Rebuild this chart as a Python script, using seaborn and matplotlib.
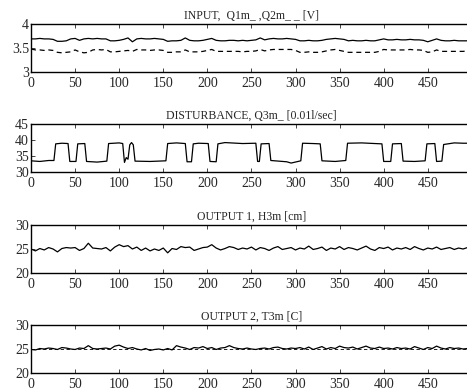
import numpy as np
import pandas as pd
import seaborn as sns
import matplotlib.pyplot as plt

# time axis of the sampled series (step 5)
t = np.arange(0, 501, 5)

# INPUT panel: Q1m (solid) and Q2m (dashed)
q1m = [3.69, 3.69, 3.70, 3.69, 3.69, 3.68, 3.64, 3.64, 3.65, 3.69,
       3.70, 3.66, 3.69, 3.70, 3.69, 3.70, 3.69, 3.69, 3.65, 3.65,
       3.66, 3.68, 3.71, 3.63, 3.69, 3.70, 3.69, 3.69, 3.70, 3.69,
       3.68, 3.64, 3.65, 3.65, 3.66, 3.71, 3.66, 3.65, 3.65, 3.66,
       3.68, 3.70, 3.66, 3.65, 3.65, 3.66, 3.66, 3.65, 3.66, 3.65,
       3.66, 3.67, 3.71, 3.67, 3.69, 3.70, 3.69, 3.69, 3.70, 3.69,
       3.68, 3.65, 3.65, 3.66, 3.65, 3.65, 3.66, 3.68, 3.69, 3.70,
       3.69, 3.68, 3.65, 3.66, 3.65, 3.65, 3.66, 3.65, 3.65, 3.67,
       3.69, 3.67, 3.67, 3.68, 3.67, 3.67, 3.68, 3.67, 3.67, 3.66,
       3.63, 3.66, 3.69, 3.66, 3.65, 3.65, 3.66, 3.65, 3.65, 3.65,
       3.65]
q2m = [3.48, 3.46, 3.46, 3.45, 3.46, 3.45, 3.41, 3.40, 3.41, 3.42,
       3.46, 3.42, 3.40, 3.41, 3.46, 3.47, 3.46, 3.47, 3.42, 3.42,
       3.43, 3.44, 3.45, 3.43, 3.47, 3.46, 3.46, 3.45, 3.46, 3.46,
       3.45, 3.41, 3.41, 3.42, 3.42, 3.46, 3.42, 3.42, 3.42, 3.43,
       3.45, 3.47, 3.43, 3.43, 3.43, 3.43, 3.43, 3.43, 3.42, 3.43,
       3.43, 3.44, 3.47, 3.44, 3.46, 3.47, 3.47, 3.47, 3.47, 3.47,
       3.45, 3.41, 3.41, 3.42, 3.41, 3.41, 3.42, 3.44, 3.46, 3.47,
       3.45, 3.43, 3.41, 3.41, 3.41, 3.41, 3.41, 3.41, 3.41, 3.43,
       3.47, 3.46, 3.46, 3.46, 3.46, 3.46, 3.47, 3.46, 3.46, 3.45,
       3.41, 3.42, 3.46, 3.43, 3.43, 3.43, 3.43, 3.43, 3.43, 3.44,
       3.44]

# DISTURBANCE panel: Q3m, read at the switching instants
t_q3 = [0, 10, 20, 26, 28, 35, 42, 44, 51, 53, 61, 63, 75, 86, 88, 100, 104,
        106, 108, 110, 112, 114, 116, 118, 135, 153, 155, 165, 175, 177, 182,
        184, 190, 201, 203, 210, 212, 220, 240, 255, 257, 259, 261, 270, 272,
        290, 295, 306, 308, 320, 328, 330, 345, 357, 359, 375, 390, 398, 400,
        408, 410, 420, 422, 435, 447, 449, 458, 460, 466, 468, 480, 490, 500]
q3m = [33.5, 33.3, 33.6, 33.6, 38.8, 39.0, 38.9, 33.3, 33.3, 38.8, 38.9, 33.3,
       33.1, 33.4, 38.9, 39.1, 38.9, 33.0, 34.5, 34.0, 38.5, 39.2, 38.5, 33.4,
       33.3, 33.5, 38.9, 39.1, 38.9, 33.2, 33.2, 38.8, 39.0, 38.9, 33.3, 33.2,
       38.8, 39.2, 38.9, 39.0, 33.3, 33.3, 38.8, 38.9, 33.6, 33.2, 32.8, 33.5,
       39.0, 38.9, 38.8, 33.5, 33.3, 33.6, 39.0, 39.1, 38.9, 38.8, 33.3, 33.3,
       38.8, 38.9, 33.4, 33.3, 33.5, 38.8, 38.9, 33.3, 33.4, 38.6, 39.1, 39.0,
       39.0]

# OUTPUT 1 panel: H3m
h3m = [25.0, 24.6, 25.1, 24.8, 25.3, 25.0, 24.4, 25.1, 25.3, 25.2,
       25.3, 24.7, 25.1, 26.2, 25.2, 25.1, 25.0, 25.3, 24.6, 25.4,
       25.9, 25.5, 25.7, 25.0, 25.4, 24.7, 25.2, 24.6, 25.0, 24.7,
       25.2, 24.2, 25.1, 24.9, 25.5, 25.3, 25.4, 24.7, 25.0, 25.3,
       25.4, 25.9, 25.2, 24.8, 25.1, 25.5, 25.3, 24.9, 25.2, 25.0,
       25.4, 24.8, 25.3, 25.1, 24.7, 25.2, 25.5, 24.9, 25.1, 25.3,
       24.8, 25.2, 25.0, 25.6, 24.9, 25.1, 25.4, 24.7, 25.2, 25.0,
       25.5, 24.9, 25.3, 25.1, 24.8, 25.2, 25.6, 25.0, 24.7, 25.3,
       25.1, 25.4, 24.8, 25.2, 25.0, 25.3, 24.9, 25.5, 25.1, 24.8,
       25.2, 25.0, 25.4, 24.9, 25.1, 25.3, 24.9, 25.2, 25.0, 25.3,
       25.1]

# OUTPUT 2 panel: T3m and its set point
t3m = [24.9, 24.8, 25.1, 25.0, 25.2, 25.1, 24.9, 25.3, 25.2, 25.0,
       24.9, 25.2, 25.1, 25.7, 25.1, 25.0, 25.1, 25.2, 25.0, 25.6,
       25.8, 25.4, 25.1, 25.3, 25.0, 24.8, 25.1, 24.7, 24.9, 25.0,
       24.8, 25.1, 24.8, 25.7, 25.4, 25.2, 24.9, 25.3, 25.2, 25.5,
       25.1, 25.3, 24.9, 25.2, 25.3, 25.7, 25.3, 25.1, 25.0, 25.2,
       25.0, 24.9, 25.1, 25.2, 25.0, 25.3, 25.4, 25.1, 25.0, 25.2,
       25.1, 25.3, 25.0, 25.4, 24.9, 25.2, 25.5, 25.0, 25.3, 25.1,
       25.6, 25.3, 25.2, 25.4, 25.0, 25.3, 25.6, 25.2, 25.1, 25.4,
       25.1, 25.2, 25.0, 25.3, 25.1, 25.2, 25.0, 25.5, 25.2, 24.9,
       25.3, 25.1, 25.6, 25.2, 25.0, 25.3, 25.1, 25.2, 25.0, 25.1,
       25.1]
t3_set = 25.0

titles = ["INPUT,  Q1m_ ,Q2m_ _ [V]", "DISTURBANCE, Q3m_ [0.01l/sec]",
          "OUTPUT 1, H3m [cm]", "OUTPUT 2, T3m [C]"]
xticks = [0, 50, 100, 150, 200, 250, 300, 350, 400, 450]
yticks = [[3, 3.5, 4], [30, 35, 40, 45], [20, 25, 30], [20, 25, 30]]
yticklabels = [["3", "3.5", "4"], ["30", "35", "40", "45"],
               ["20", "25", "30"], ["20", "25", "30"]]

sns.set_style("ticks")
plt.rcParams["font.family"] = ["Liberation Serif", "DejaVu Serif"]
plt.rcParams["xtick.direction"] = "in"
plt.rcParams["ytick.direction"] = "in"

fig = plt.figure(figsize=(4.67, 3.92), dpi=100)
bottoms = [0.8163, 0.5612, 0.3036, 0.0485]
axes = [fig.add_axes([0.0664, b, 0.944, 0.1224]) for b in bottoms]

inp = pd.DataFrame({"t": t, "q1": q1m, "q2": q2m})
sns.lineplot(data=inp, x="t", y="q1", ax=axes[0], color="black", lw=0.9)
sns.lineplot(data=inp, x="t", y="q2", ax=axes[0], color="black", lw=0.9,
             linestyle=(0, (4, 3)))

dist = pd.DataFrame({"t": t_q3, "q3": q3m})
sns.lineplot(data=dist, x="t", y="q3", ax=axes[1], color="black", lw=0.9)

out1 = pd.DataFrame({"t": t, "h3": h3m})
sns.lineplot(data=out1, x="t", y="h3", ax=axes[2], color="black", lw=0.9)

out2 = pd.DataFrame({"t": t, "t3": t3m, "sp": [t3_set] * len(t)})
sns.lineplot(data=out2, x="t", y="sp", ax=axes[3], color="black", lw=0.6,
             linestyle=(0, (4, 3)))
sns.lineplot(data=out2, x="t", y="t3", ax=axes[3], color="black", lw=0.9)

for i, ax in enumerate(axes):
    ax.set_xlim(0, 500)
    ax.set_ylim(yticks[i][0], yticks[i][-1])
    ax.set_xticks(xticks)
    ax.set_xticklabels([str(v) for v in xticks])
    ax.set_yticks(yticks[i])
    ax.set_yticklabels(yticklabels[i])
    ax.set_xlabel("")
    ax.set_ylabel("")
    ax.set_title(titles[i], fontsize=8.5, pad=4)
    ax.tick_params(labelsize=10, length=3, width=0.6,
                   top=True, right=True)
    ax.tick_params(axis="x", pad=3.5)
    ax.tick_params(axis="y", pad=1.5)
    for s in ax.spines.values():
        s.set_linewidth(1.0)
        s.set_color("black")

fig.savefig("out.png", dpi=100)
